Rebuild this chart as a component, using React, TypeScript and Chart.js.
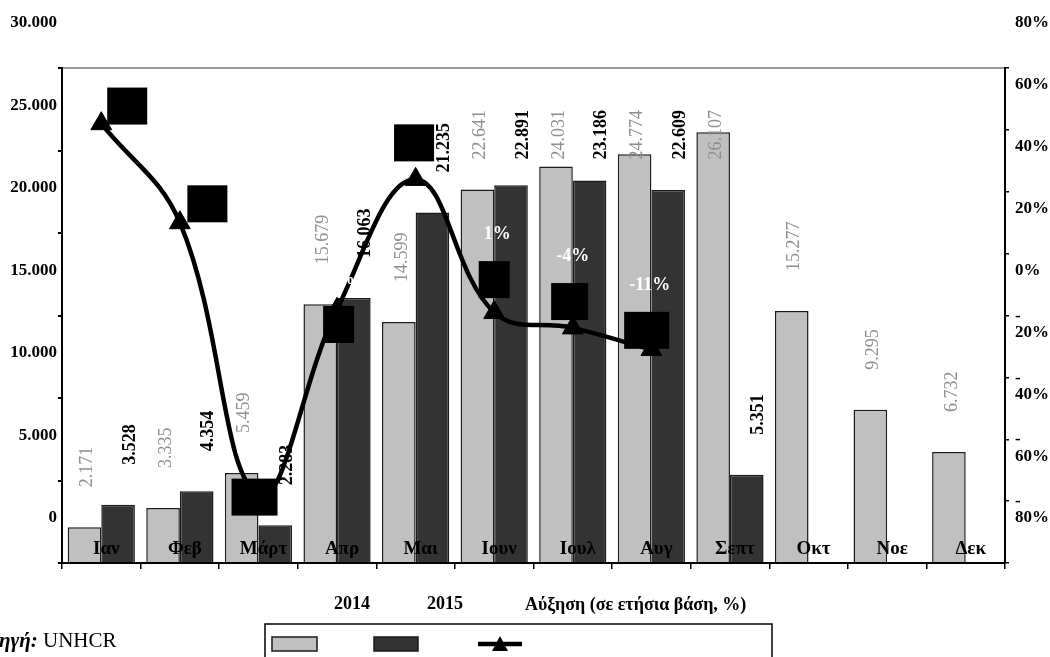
import React, { useEffect, useRef } from 'react';
import { Chart, registerables } from 'chart.js';

Chart.register(...registerables);

const months = ['Ιαν', 'Φεβ', 'Μάρτ', 'Απρ', 'Μαι', 'Ιουν', 'Ιουλ', 'Αυγ', 'Σεπτ', 'Οκτ', 'Νοε', 'Δεκ'];
const arrivals2014 = [2171, 3335, 5459, 15679, 14599, 22641, 24031, 24774, 26107, 15277, 9295, 6732];
const arrivals2015 = [3528, 4354, 2283, 16063, 21235, 22891, 23186, 22609, 5351, null, null, null];
const growthPct = [62, 30, -58, 2, 44, 1, -4, -11];
const growthLabels = ['62%', '31%', '-58%', '2%', '45%', '1%', '-4%', '-11%'];
// where the (black) label boxes of the growth series sit: category position and % value
const growthLabelPos = [0.33, 1.35, 1.95, 3.02, 3.98, 5.0, 5.96, 6.94];
const growthLabelVal = [67.7, 36.1, -58.7, -2.9, 55.8, 11.6, 4.5, -4.8];
const seriesNames = ['2014', '2015', 'Αύξηση (σε ετήσια βάση, %)'];
const sourceLabel = 'Πηγή:';
const sourceName = ' UNHCR';

const SERIF = '"Liberation Serif", "Times New Roman", serif';
const fmt = (v: number) => String(Math.round(v)).replace(/\B(?=(\d{3})+(?!\d))/g, '.');

const annotate = {
  id: 'annotate',
  afterDatasetsDraw(chart: any) {
    const ctx = chart.ctx;
    const area = chart.chartArea;
    const xs = chart.scales.x;
    const yr = chart.scales.yr;
    const boxes = growthLabelPos.map((p, i) => ({ x: xs.getPixelForValue(p), y: yr.getPixelForValue(growthLabelVal[i]) }));
    // black label boxes of growth series
    ctx.save();
    ctx.font = `bold 18px ${SERIF}`;
    boxes.forEach((b, i) => {
      const w = ctx.measureText(growthLabels[i]).width + 4;
      ctx.fillStyle = '#000';
      ctx.fillRect(b.x - w / 2, b.y - 18.5, w, 37);
    });
    ctx.restore();
    // bar value labels
    [0, 1].forEach((di) => {
      const meta = chart.getDatasetMeta(di);
      const ds = chart.data.datasets[di];
      meta.data.forEach((el: any, i: number) => {
        const v = ds.data[i];
        if (v == null) return;
        const txt = fmt(v);
        ctx.save();
        ctx.font = `${di === 0 ? '' : 'bold '}18px ${SERIF}`;
        const tw = ctx.measureText(txt).width;
        let start = el.y - 40;
        if (start - tw < area.top + 42) start = area.top + 42 + tw;
        ctx.translate(el.x + (di === 0 ? 3 : 12), start);
        ctx.rotate(-Math.PI / 2);
        ctx.fillStyle = di === 0 ? '#8f8f8f' : '#000';
        ctx.textAlign = 'left';
        ctx.textBaseline = 'middle';
        ctx.fillText(txt, 0, 0);
        ctx.restore();
      });
    });
    // growth labels (white)
    ctx.save();
    ctx.font = `bold 18px ${SERIF}`;
    ctx.fillStyle = '#fff';
    ctx.textAlign = 'center';
    ctx.textBaseline = 'middle';
    boxes.forEach((b, i) => {
      ctx.fillText(growthLabels[i], b.x + 3, b.y - 45);
    });
    ctx.restore();
  },
  afterDraw(chart: any) {
    const ctx = chart.ctx;
    const ds = chart.data.datasets;
    ctx.save();
    // legend texts
    ctx.font = `bold 18px ${SERIF}`;
    ctx.fillStyle = '#000';
    ctx.textBaseline = 'middle';
    ctx.textAlign = 'center';
    ctx.fillText(seriesNames[0], 352, 604);
    ctx.fillText(seriesNames[1], 445, 604);
    ctx.textAlign = 'left';
    ctx.fillText(seriesNames[2], 525, 605);
    // legend box
    ctx.strokeStyle = '#000';
    ctx.lineWidth = 1.5;
    ctx.strokeRect(265, 624, 507, 60);
    // swatches
    ctx.fillStyle = ds[0].backgroundColor;
    ctx.fillRect(272, 637, 45, 14);
    ctx.strokeStyle = ds[0].borderColor;
    ctx.lineWidth = 1.5;
    ctx.strokeRect(272, 637, 45, 14);
    ctx.fillStyle = ds[1].backgroundColor;
    ctx.fillRect(374, 637, 44, 14);
    ctx.strokeStyle = ds[1].borderColor;
    ctx.strokeRect(374, 637, 44, 14);
    ctx.strokeStyle = ds[2].borderColor;
    ctx.lineWidth = 4.5;
    ctx.beginPath();
    ctx.moveTo(478, 644);
    ctx.lineTo(522, 644);
    ctx.stroke();
    ctx.fillStyle = ds[2].pointBackgroundColor;
    ctx.beginPath();
    ctx.moveTo(500, 636);
    ctx.lineTo(508, 651);
    ctx.lineTo(492, 651);
    ctx.closePath();
    ctx.fill();
    // source
    ctx.font = `italic bold 21px ${SERIF}`;
    const pw = ctx.measureText('Π').width;
    const sw = ctx.measureText(sourceLabel).width;
    ctx.textAlign = 'left';
    ctx.textBaseline = 'alphabetic';
    ctx.fillStyle = '#000';
    const x0 = -pw - 1;
    ctx.fillText(sourceLabel, x0, 647);
    ctx.font = `21px ${SERIF}`;
    ctx.fillText(sourceName, x0 + sw, 647);
    ctx.restore();
  },
};

export default function App() {
  const ref = useRef<HTMLCanvasElement | null>(null);
  useEffect(() => {
    if (!ref.current) return;
    const chart = new Chart(ref.current, {
      type: 'bar',
      data: {
        labels: months,
        datasets: [
          {
            type: 'bar',
            label: seriesNames[0],
            data: arrivals2014,
            backgroundColor: '#c0c0c0',
            borderColor: '#1a1a1a',
            borderWidth: 1.5,
            barPercentage: 1,
            categoryPercentage: 0.855,
            yAxisID: 'y',
            xAxisID: 'x',
            order: 2,
          },
          {
            type: 'bar',
            label: seriesNames[1],
            data: arrivals2015,
            backgroundColor: '#333333',
            borderColor: '#1a1a1a',
            borderWidth: 1.5,
            barPercentage: 1,
            categoryPercentage: 0.855,
            yAxisID: 'y',
            xAxisID: 'x',
            order: 3,
          },
          {
            type: 'line',
            label: seriesNames[2],
            data: growthPct,
            borderColor: '#000',
            borderWidth: 4.5,
            tension: 0.4,
            pointStyle: 'triangle',
            pointRadius: 12,
            pointBackgroundColor: '#000',
            pointBorderColor: '#000',
            pointBorderWidth: 1,
            yAxisID: 'yr',
            xAxisID: 'x',
            order: 1,
          } as any,
        ],
      },
      options: {
        animation: false,
        responsive: true,
        maintainAspectRatio: false,
        layout: { padding: { top: 68, bottom: 0, left: 0, right: 0 } },
        plugins: { legend: { display: false }, tooltip: { enabled: false } },
        scales: {
          x: {
            type: 'category',
            position: 'bottom',
            offset: true,
            grid: { drawOnChartArea: false, offset: true, tickLength: 6, tickColor: '#000', lineWidth: 1.5 },
            border: { display: true, color: '#000', width: 2, z: 1 },
            ticks: { z: 1, font: { family: SERIF, size: 19, weight: 'bold' }, color: '#000', mirror: true, padding: 3, labelOffset: 5, maxRotation: 0, autoSkip: false },
            afterFit: (s: any) => { s.height = 94; },
          },
          y: {
            position: 'left',
            min: 0,
            max: 30000,
            ticks: {
              stepSize: 5000,
              font: { family: SERIF, size: 17, weight: 'bold' },
              color: '#000',
              padding: 1,
              labelOffset: -45,
              callback: (v: any) => fmt(Number(v)),
            },
            grid: {
              drawOnChartArea: true,
              color: (c: any) => (c.tick && c.tick.value === 30000 ? '#9a9a9a' : 'rgba(0,0,0,0)'),
              lineWidth: 2,
              tickLength: 4,
              tickColor: '#000',
            },
            border: { display: true, color: '#000', width: 2 },
            afterFit: (s: any) => { s.width = 62; },
          },
          yr: {
            position: 'right',
            min: -80,
            max: 80,
            ticks: {
              stepSize: 20,
              font: { family: SERIF, size: 17, weight: 'bold', lineHeight: 0.95 },
              color: '#000',
              padding: 6,
              labelOffset: -53,
              callback: (v: any) => (Number(v) < 0 ? ['-', Math.abs(Number(v)) + '%'] : ['', v + '%']),
            },
            grid: { drawOnChartArea: false, tickLength: 4, tickColor: '#000', lineWidth: 1.5 },
            border: { display: true, color: '#000', width: 2 },
            afterFit: (s: any) => { s.width = 45; },
          },
        },
      } as any,
      plugins: [annotate],
    });
    return () => chart.destroy();
  }, []);

  return (
    <div style={{ position: 'absolute', left: 0, top: 0, width: 1050, height: 657, background: '#fff' }}>
      <canvas ref={ref} />
    </div>
  );
}
